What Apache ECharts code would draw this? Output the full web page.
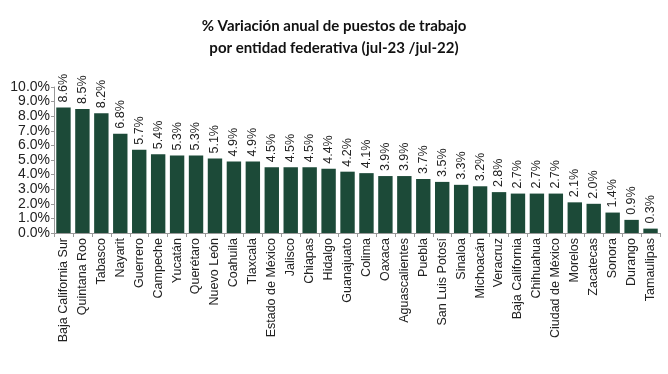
<!DOCTYPE html>
<html><head><meta charset="utf-8">
<script src="https://cdn.jsdelivr.net/npm/echarts@6/dist/echarts.min.js"></script>
<style>html,body{margin:0;padding:0;background:#fff}#c{width:668px;height:374px}</style>
</head><body><div id="c"></div>
<script>
const categories = ["Baja California Sur","Quintana Roo","Tabasco","Nayarit","Guerrero","Campeche","Yucatán","Querétaro","Nuevo León","Coahuila","Tlaxcala","Estado de México","Jalisco","Chiapas","Hidalgo","Guanajuato","Colima","Oaxaca","Aguascalientes","Puebla","San Luis Potosí","Sinaloa","Michoacán","Veracruz","Baja California","Chihuahua","Ciudad de México","Morelos","Zacatecas","Sonora","Durango","Tamaulipas"];
const values = [8.6,8.5,8.2,6.8,5.7,5.4,5.3,5.3,5.1,4.9,4.9,4.5,4.5,4.5,4.4,4.2,4.1,3.9,3.9,3.7,3.5,3.3,3.2,2.8,2.7,2.7,2.7,2.1,2.0,1.4,0.9,0.3];
const titleLines = ["% Variación anual de puestos de trabajo","por entidad federativa (jul-23 /jul-22)"];
const font = '"Liberation Sans Narrow","Liberation Sans",Arial,sans-serif';
const chart = echarts.init(document.getElementById('c'));
chart.setOption({
  animation:false,
  title:{text:titleLines.join('\n'),left:'center',top:10,textStyle:{fontFamily:'Lato,"Open Sans",sans-serif',fontWeight:'bold',fontSize:15,lineHeight:22,color:'#111'}},
  grid:{left:54,right:8,top:87,bottom:141},
  xAxis:{type:'category',data:categories,
    axisLine:{lineStyle:{color:'#999'}},
    axisTick:{show:true,alignWithLabel:false,length:4,lineStyle:{color:'#999'}},
    axisLabel:{rotate:90,interval:0,fontFamily:font,fontSize:12.5,color:'#222',margin:5}},
  yAxis:{type:'value',min:0,max:10,interval:1,
    axisLine:{show:true,lineStyle:{color:'#999'}},
    axisTick:{show:true,length:3,lineStyle:{color:'#999'}},
    splitLine:{show:false},
    axisLabel:{fontFamily:font,fontSize:14,color:'#222',margin:4,formatter:v=>v.toFixed(1)+'%'}},
  series:[{type:'bar',data:values,barCategoryGap:'24%',itemStyle:{color:'#1c4a38'},
    label:{show:true,position:'top',rotate:90,align:'left',verticalAlign:'middle',distance:5,
      fontFamily:font,fontSize:12.5,color:'#222',formatter:p=>p.value.toFixed(1)+'%'}}]
});
</script></body></html>
